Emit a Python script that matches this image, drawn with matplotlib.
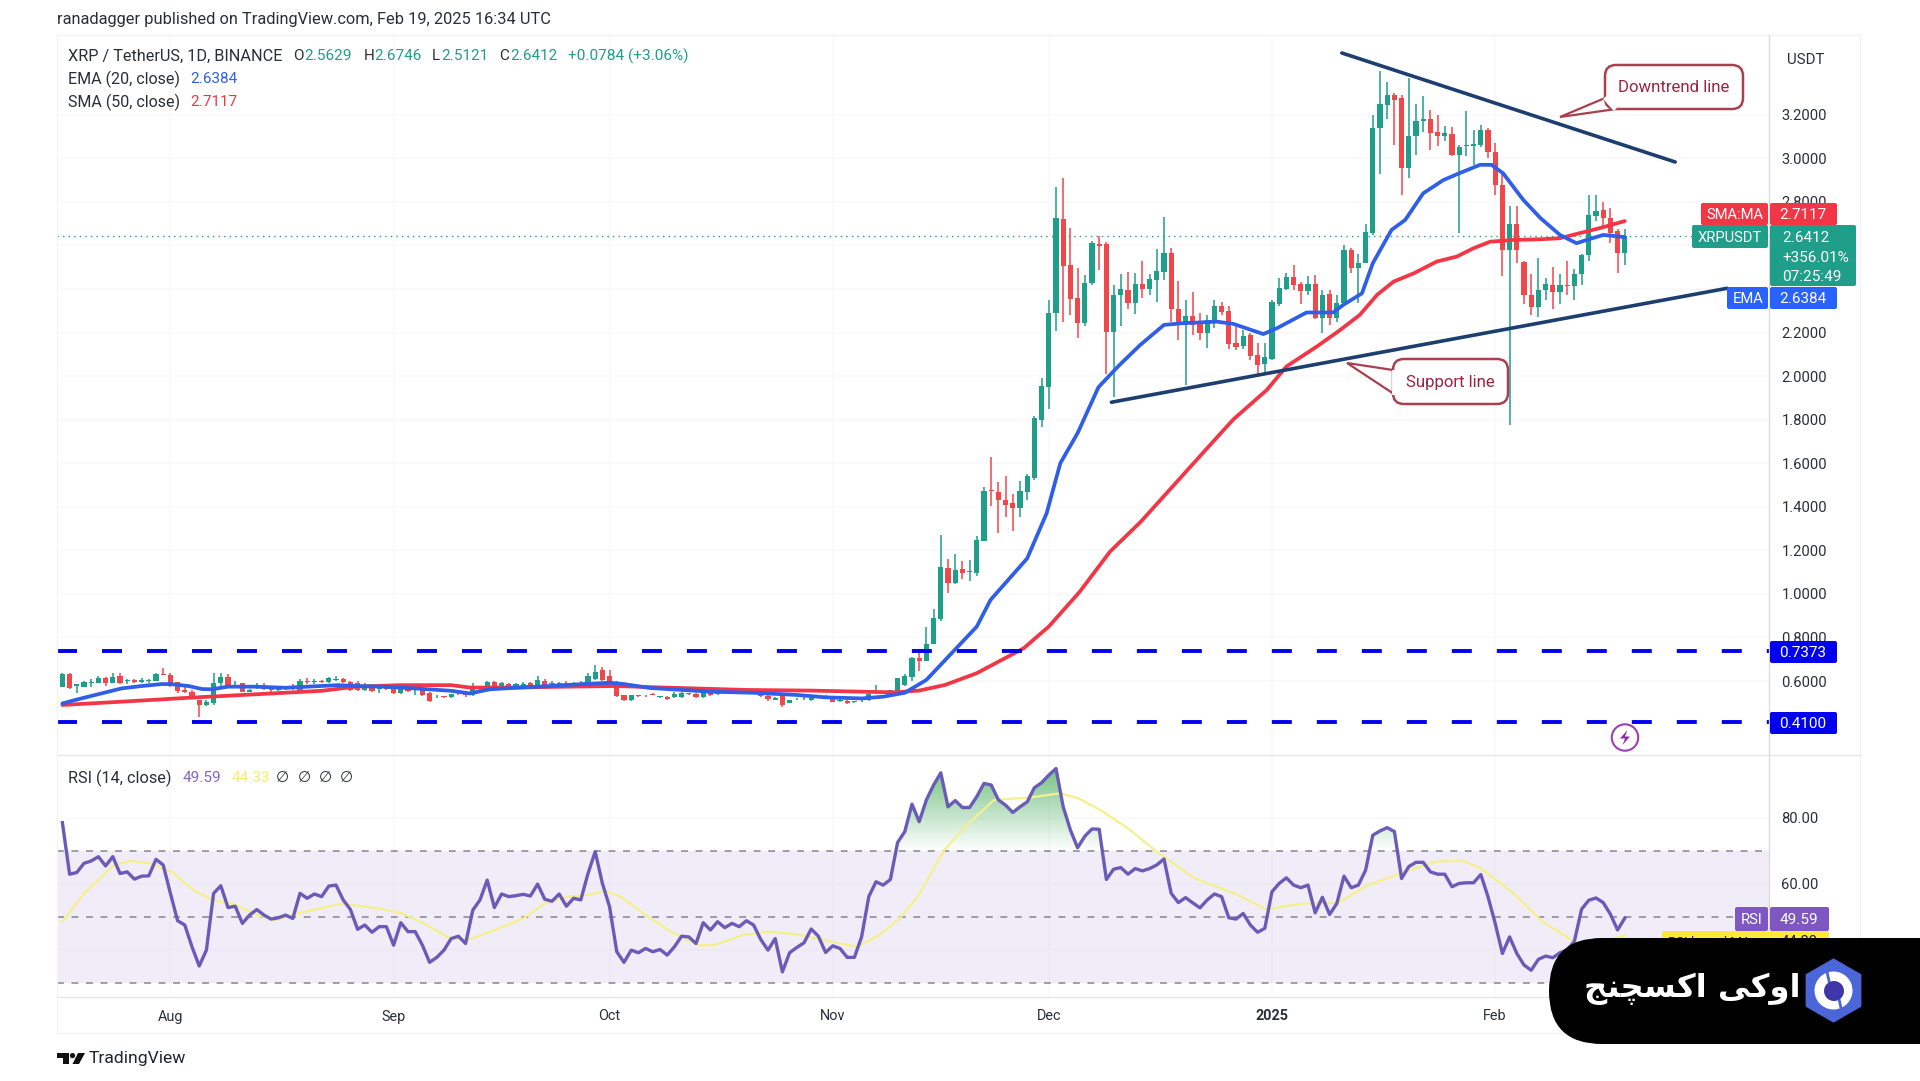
import numpy as np
import matplotlib
matplotlib.use('Agg')
import matplotlib.pyplot as plt
from matplotlib.patches import FancyBboxPatch, Polygon, Circle, PathPatch
from matplotlib.path import Path

plt.rcParams['font.family'] = ['Roboto', 'DejaVu Sans']

# ---------- data (daily candles, index 0 = 17 Jul 2024, 217 = 19 Feb 2025) ----------
opens = [
.574,.632,.575,.571,.59,.592,.612,.592,.623,.60,
.603,.595,.598,.60,.63,.628,.594,.558,.55,.513,
.49,.497,.592,.62,.574,.59,.551,.566,.577,.562,
.56,.565,.577,.556,.60,.597,.60,.597,.605,.607,
.597,.59,.558,.569,.563,.566,.566,.543,.566,.557,
.558,.546,.525,.527,.525,.54,.54,.535,.566,.569,
.597,.566,.586,.575,.578,.59,.58,.60,.585,.58,
.592,.582,.592,.59,.61,.65,.625,.597,.535,.515,
.533,.531,.54,.527,.528,.525,.525,.543,.54,.525,
.548,.54,.555,.55,.553,.55,.552,.551,.532,.515,
.532,.50,.516,.52,.513,.529,.53,.52,.508,.51,
.505,.506,.513,.544,.55,.555,.55,.582,.62,.705,
.69,.77,.885,1.12,1.05,1.113,1.10,1.095,1.245,1.474,
1.468,1.433,1.415,1.393,1.47,1.53,1.799,1.949,2.288,2.721,
2.51,2.36,2.243,2.426,2.607,2.607,2.204,2.37,2.396,2.337,
2.423,2.398,2.442,2.48,2.567,2.308,2.235,2.278,2.243,2.20,
2.255,2.322,2.30,2.154,2.138,2.19,2.097,2.056,2.079,2.331,
2.40,2.454,2.423,2.392,2.421,2.265,2.375,2.268,2.334,2.579,
2.498,2.518,2.656,3.137,3.245,3.29,3.275,2.957,3.10,3.17,
3.18,3.12,3.10,3.11,3.015,3.055,3.055,3.06,3.13,3.03,
2.878,2.579,2.70,2.526,2.373,2.316,2.393,2.418,2.388,2.419,
2.414,2.467,2.556,2.735,2.763,2.725,2.664,2.5629]
highs = [
.635,.635,.586,.60,.607,.622,.617,.635,.635,.607,
.607,.612,.607,.638,.658,.635,.597,.571,.56,.513,
.513,.638,.638,.63,.60,.592,.565,.59,.59,.57,
.568,.575,.585,.61,.612,.61,.605,.62,.625,.612,
.60,.60,.59,.572,.568,.57,.57,.57,.57,.562,
.56,.55,.535,.53,.541,.543,.543,.592,.575,.60,
.60,.595,.59,.59,.595,.595,.622,.61,.60,.595,
.60,.596,.60,.635,.672,.665,.65,.60,.537,.537,
.536,.534,.545,.532,.53,.55,.548,.547,.545,.548,
.552,.552,.56,.56,.56,.556,.556,.555,.535,.525,
.54,.515,.52,.525,.53,.535,.535,.523,.52,.513,
.51,.514,.55,.58,.555,.56,.615,.63,.71,.745,
.85,.93,1.27,1.16,1.183,1.15,1.155,1.265,1.49,1.63,
1.515,1.54,1.46,1.52,1.55,1.815,1.99,2.35,2.87,2.91,
2.68,2.495,2.465,2.62,2.645,2.615,2.42,2.47,2.48,2.475,
2.53,2.47,2.585,2.73,2.59,2.435,2.35,2.385,2.29,2.28,
2.35,2.34,2.32,2.23,2.21,2.20,2.15,2.15,2.35,2.45,
2.475,2.51,2.43,2.46,2.465,2.395,2.395,2.37,2.60,2.59,
2.56,2.70,3.20,3.40,3.35,3.30,3.29,3.37,3.25,3.285,
3.22,3.20,3.15,3.145,3.06,3.215,3.13,3.155,3.14,3.07,
2.94,2.78,2.78,2.53,2.47,2.54,2.45,2.50,2.47,2.53,
2.49,2.56,2.83,2.83,2.80,2.77,2.675,2.6746]
lows = [
.572,.563,.543,.571,.574,.59,.575,.59,.585,.587,
.589,.589,.589,.598,.627,.572,.545,.543,.53,.433,
.487,.49,.577,.57,.57,.55,.55,.563,.558,.545,
.556,.56,.56,.55,.585,.585,.59,.592,.60,.59,
.555,.555,.555,.55,.545,.558,.54,.54,.55,.535,
.533,.505,.52,.522,.522,.535,.525,.53,.56,.565,
.568,.563,.572,.572,.575,.575,.578,.577,.582,.578,
.578,.58,.586,.586,.606,.60,.575,.525,.51,.51,
.528,.526,.534,.524,.512,.522,.522,.538,.52,.522,
.532,.536,.545,.546,.546,.545,.546,.528,.51,.512,
.48,.497,.512,.515,.51,.525,.525,.503,.505,.494,
.50,.503,.51,.54,.545,.55,.548,.575,.60,.645,
.69,.77,.875,1.005,1.047,1.07,1.06,1.08,1.245,1.405,
1.28,1.355,1.29,1.355,1.43,1.525,1.768,1.85,2.205,2.25,
2.28,2.175,2.23,2.42,2.485,2.01,1.905,2.23,2.31,2.285,
2.36,2.37,2.34,2.44,2.25,2.165,1.96,2.19,2.165,2.13,
2.22,2.28,2.125,2.12,2.125,2.075,2.0,2.015,2.075,2.32,
2.395,2.395,2.33,2.37,2.26,2.20,2.235,2.25,2.33,2.475,
2.335,2.518,2.65,2.93,3.18,3.06,2.83,2.91,3.015,3.12,
3.04,3.055,3.08,3.01,2.655,3.01,2.97,3.05,3.0,2.83,
2.46,1.775,2.518,2.33,2.28,2.27,2.35,2.31,2.33,2.37,
2.35,2.42,2.53,2.71,2.69,2.61,2.475,2.5121]
closes = [
.632,.566,.585,.597,.597,.612,.59,.62,.59,.603,
.595,.603,.603,.632,.628,.577,.556,.55,.532,.49,
.505,.589,.62,.574,.58,.551,.56,.577,.562,.558,
.565,.57,.566,.60,.597,.60,.597,.612,.607,.597,
.558,.558,.569,.554,.564,.562,.543,.566,.555,.56,
.535,.51,.527,.526,.539,.539,.535,.566,.57,.597,
.571,.59,.577,.585,.586,.578,.604,.58,.59,.592,
.582,.592,.59,.623,.642,.604,.58,.53,.515,.534,
.531,.529,.538,.529,.517,.54,.543,.541,.525,.543,
.536,.548,.548,.555,.55,.552,.55,.532,.517,.52,
.49,.513,.518,.522,.524,.527,.532,.505,.51,.498,
.506,.51,.54,.546,.548,.557,.612,.623,.705,.69,
.77,.888,1.122,1.048,1.11,1.095,1.104,1.247,1.474,1.472,
1.43,1.41,1.393,1.473,1.54,1.806,1.955,2.291,2.724,2.507,
2.354,2.243,2.426,2.61,2.597,2.204,2.372,2.40,2.337,2.423,
2.40,2.446,2.484,2.564,2.307,2.235,2.278,2.235,2.20,2.258,
2.322,2.296,2.148,2.135,2.184,2.094,2.05,2.086,2.338,2.403,
2.454,2.418,2.392,2.423,2.265,2.372,2.268,2.334,2.579,2.495,
2.521,2.663,3.141,3.248,3.29,3.268,2.957,3.10,3.17,3.18,
3.115,3.10,3.115,3.015,3.054,3.06,3.065,3.13,3.03,2.878,
2.579,2.70,2.579,2.373,2.319,2.396,2.423,2.388,2.418,2.415,
2.47,2.556,2.74,2.76,2.725,2.656,2.5629,2.6412]

ema_x = [0,1.8,3.6,6.4,8.2,11,13.8,15,17.5,19.4,20.7,23,26.8,31,34,38.3,40.7,44.6,49,54,56.6,59.4,63,67.7,72.3,76,78,81.6,90,96,102,106,111,114,117,120,122.6,127,128.9,134,136.7,138.6,141,143.9,146.7,149.7,153,155.7,160.3,162.6,166.8,168.7,172.8,176.5,177.9,180.5,182,184.6,186.5,189,191.8,194,196.9,198.5,200.1,202.9,205.3,208,210.3,211.7,214,217]
ema_v = [.497,.513,.528,.551,.566,.577,.586,.586,.577,.563,.562,.574,.574,.569,.574,.581,.577,.574,.566,.555,.543,.562,.569,.577,.586,.592,.586,.568,.551,.546,.536,.525,.52,.528,.546,.605,.696,.85,.972,1.163,1.37,1.60,1.738,1.949,2.047,2.143,2.235,2.243,2.25,2.24,2.193,2.22,2.292,2.292,2.327,2.38,2.518,2.671,2.717,2.839,2.90,2.931,2.97,2.97,2.931,2.809,2.725,2.648,2.61,2.625,2.648,2.6384]
sma_x = [0,8.2,17.5,26.8,36,40.7,46.9,54,56.6,63,70,76.9,81.6,95,104,111,115.6,119,122.6,127,133.5,137,141.3,145.5,149.8,159,162.6,167.3,170,174.2,177.4,180.2,182.6,184.9,187.7,190.9,193.7,196,198.3,201.5,205.2,208,210.7,213.5,217]
sma_v = [.49,.505,.523,.539,.555,.574,.581,.581,.57,.57,.574,.577,.572,.559,.556,.551,.548,.556,.582,.636,.75,.85,1.01,1.194,1.332,1.669,1.80,1.937,2.044,2.135,2.21,2.281,2.373,2.434,2.472,2.526,2.549,2.587,2.617,2.625,2.628,2.633,2.656,2.679,2.7117]

rsi_v = [
78.5,62.9,63.4,66.2,66.9,68.2,65.4,68.2,63.1,63.6,
61.4,62.3,62.4,67.4,65.7,57.1,48.8,47.5,40.9,35.1,
39.9,57.1,59.4,52.8,53.2,48.0,50.5,52.2,50.5,49.3,
49.7,50.5,49.5,57.1,55.6,56.9,56.1,59.3,59.6,55.1,
52.2,46.2,47.5,45.3,47.0,47.0,41.4,48.2,45.5,45.5,
41.4,36.2,37.7,39.9,43.4,44.1,41.9,52.0,55.1,61.1,
52.8,56.9,56.1,56.4,56.8,56.3,59.9,55.3,54.7,56.9,
53.2,55.6,55.1,63.1,69.7,60.1,53.0,39.4,36.2,39.9,
39.1,40.4,39.4,40.1,38.4,40.9,44.1,43.9,41.9,48.2,
46.0,48.5,46.7,48.0,47.0,48.8,47.5,43.1,39.9,43.4,
33.3,39.1,40.7,42.1,46.3,44.1,39.2,41.2,40.4,37.7,
37.7,43.9,56.1,60.6,59.6,61.3,72.5,75.8,84.1,78.8,
85.4,89.9,93.6,83.3,85.2,83.1,83.1,86.4,90.4,89.9,
85.4,83.8,81.6,83.3,84.8,89.1,90.6,92.9,94.9,83.3,
76.3,70.9,74.4,76.6,76.5,61.3,64.4,64.9,62.9,64.6,
63.9,64.6,65.7,67.5,57.1,54.3,55.8,54.2,52.7,55.1,
56.9,56.1,49.7,49.3,51.0,47.5,45.3,46.5,57.6,60.1,
61.8,59.6,58.8,59.6,51.2,55.9,50.7,54.0,62.3,58.8,
59.6,64.1,74.7,76.0,77.0,75.8,61.6,65.2,66.5,66.5,
63.6,62.9,62.9,59.1,60.1,60.3,60.3,62.8,56.1,48.0,
38.9,43.9,38.9,35.4,33.8,37.1,38.1,37.6,39.1,39.9,
42.6,52.3,55.0,55.7,54.3,50.8,46.0,49.59]
rsi_ma_x = [0,3,7.2,9.5,12.1,15.2,18.2,20.9,23.6,27.4,29.6,32.7,35.7,38.8,44.1,47.2,50.2,53.6,56.3,60.1,64,67,70,73,75.4,77.6,80.7,84.5,88.3,90.6,94.4,98.2,102,105.8,110.4,113.4,116.3,118.8,122.5,125.6,129.4,134.3,138.6,141.1,144.2,148,151.7,157.3,162.8,167.2,172.1,177.1,181.4,185.8,190.7,194.5,197,201.3,205.6,210,213,217]
rsi_ma_v = [48.5,57.1,65.7,66.9,66.2,63.6,58.1,55,54,50.3,49,51,52.5,54,52.5,51,48,43.7,43,46,49.5,54,56,56.6,57.9,56,51,45.5,41.4,41.4,44.4,45.5,44.7,42.9,40.9,44.4,49.5,56.1,70.2,77.8,85.4,86.1,87.4,85.9,82.3,76.8,70.2,61.6,57.1,52.2,54,54.2,59.6,63.1,66.7,67,64.6,57.6,48.5,42.4,42,44.33]

levels = [0.7373, 0.41]
down_x, down_y = [177.7, 224.0], [3.4835, 2.983]
sup_x, sup_y = [145.7, 231.2], [1.88, 2.403]
last_close = 2.6412

price_ticks = [0.6,0.8,1.0,1.2,1.4,1.6,1.8,2.0,2.2,2.4,2.6,2.8,3.0,3.2]
price_hidden = [2.4, 2.6]            # covered by the price tags in the reference
rsi_ticks = [40, 60, 80]
rsi_hidden = [40]                    # covered by the badge in the reference
month_pos = [15, 46, 76, 107, 137, 168, 199]
month_lab = ['Aug', 'Sep', 'Oct', 'Nov', 'Dec', '2025', 'Feb']

GREEN, RED, BLUE = '#1f9e89', '#f0474b', '#2f5ee8'
SMARED = '#f23645'
NAVY = '#1c3f70'
PURPLE = '#6a5bb8'
LEVEL = '#0000ee'
TXT = '#2a2e39'
GRID = '#f9f9fa'
W, H = 1920, 1081

def axbox(l, t, r, b):
    return [l / W, 1 - b / H, (r - l) / W, (b - t) / H]

fig = plt.figure(figsize=(19.2, 10.81), dpi=100, facecolor='white')
ax = fig.add_axes(axbox(57, 35, 1769, 755))
rx = fig.add_axes(axbox(57, 755, 1769, 997))
ov = fig.add_axes([0, 0, 1, 1], zorder=10)
ov.set_xlim(0, W); ov.set_ylim(H, 0); ov.axis('off'); ov.patch.set_alpha(0)

XL = (-0.75, 237.03)
# ---- price pane
ax.set_xlim(*XL); ax.set_ylim(0.2603, 3.566)
idx = np.arange(len(opens))
o, h, l, c = map(np.array, (opens, highs, lows, closes))
cols = [GREEN if cc >= oo else RED for oo, cc in zip(o, c)]
ax.vlines(idx, l, h, colors=cols, lw=1.1, zorder=3)
bot = np.minimum(o, c); ht = np.maximum(np.abs(c - o), 0.003)
ax.bar(idx, ht, bottom=bot, width=0.72, color=cols, linewidth=0, zorder=3)
ax.plot(ema_x, ema_v, color=BLUE, lw=2.7, zorder=5, solid_capstyle='round', solid_joinstyle='round')
ax.plot(sma_x, sma_v, color=SMARED, lw=2.7, zorder=4, solid_capstyle='round', solid_joinstyle='round')
ax.axhline(last_close, color=GREEN, lw=1, ls=(0, (1, 3)), zorder=2)
for lv in levels:
    ax.axhline(lv, color=LEVEL, lw=2.8, ls=(0, (5.14, 6.43)), zorder=4)
ax.plot(down_x, down_y, color=NAVY, lw=2.6, zorder=6, solid_capstyle='round')
ax.plot(sup_x, sup_y, color=NAVY, lw=2.6, zorder=6, solid_capstyle='round')
ax.set_yticks(price_ticks)
ax.set_yticklabels(['' if t in price_hidden else f'{t:.4f}' for t in price_ticks])
ax.yaxis.tick_right()
ax.tick_params(axis='y', length=0, pad=9, labelsize=10.6, labelcolor=TXT)
ax.set_xticks(month_pos); ax.tick_params(axis='x', length=0, labelbottom=False)
ax.grid(True, color=GRID, lw=1.2, zorder=0); ax.set_axisbelow(True)

# ---- RSI pane
rx.set_xlim(*XL); rx.set_ylim(25.7, 99)
rx.axhspan(30, 70, color='#7e57c2', alpha=0.1, lw=0, zorder=1)
for lv in (70, 50, 30):
    rx.axhline(lv, color='#85858f', lw=1.1, ls=(0, (4.5, 5)), zorder=2)
rsi = np.array(rsi_v); ridx = np.arange(len(rsi))
poly = rx.fill_between(ridx, 70, rsi, where=rsi > 70, interpolate=True, alpha=0)
clip = PathPatch(Path.make_compound_path(*poly.get_paths()), transform=rx.transData, fc='none', ec='none')
rx.add_patch(clip)
n = 256
grad = np.zeros((n, 2, 4))
grad[..., 0] = 0.28; grad[..., 1] = 0.68; grad[..., 2] = 0.36
grad[:, :, 3] = np.linspace(0.78, 0, n)[:, None]
im = rx.imshow(grad, extent=[XL[0], XL[1], 70, 96], origin='upper', aspect='auto', zorder=2.5)
im.set_clip_path(clip)
rx.set_xlim(*XL); rx.set_ylim(25.7, 99)
rx.plot(rsi_ma_x, rsi_ma_v, color='#f5f08a', lw=1.6, zorder=3)
rx.plot(ridx, rsi, color=PURPLE, lw=2.4, zorder=4, solid_joinstyle='round')
rx.set_yticks(rsi_ticks)
rx.set_yticklabels(['' if t in rsi_hidden else f'{t:.2f}' for t in rsi_ticks])
rx.yaxis.tick_right()
rx.tick_params(axis='y', length=0, pad=9, labelsize=10.6, labelcolor=TXT)
rx.set_xticks(month_pos); rx.set_xticklabels(month_lab)
rx.tick_params(axis='x', length=0, pad=9, labelsize=10.4, labelcolor=TXT)
for t in rx.get_xticklabels():
    if t.get_text() == '2025':
        t.set_fontweight('bold')
rx.grid(True, color=GRID, lw=1.2, zorder=0); rx.set_axisbelow(True)
for a in (ax, rx):
    for s in a.spines.values():
        s.set_visible(False)

# ---- frame lines
for (x0, y0, x1, y1, col) in [(57, 35, 1860, 35, '#f4f4f5'), (1860, 35, 1860, 1033, '#f1f1f2'),
                              (57, 755, 1860, 755, '#e6e6e8'), (57, 997, 1860, 997, '#e6e6e8'),
                              (57, 1033, 1860, 1033, '#f1f1f2'), (1769, 35, 1769, 1033, '#d9d9dc'),
                              (57, 35, 57, 1033, '#f4f4f5')]:
    ov.plot([x0, x1], [y0, y1], color=col, lw=0.9, zorder=0.5)

def T(x, y, s, color=TXT, size=10.6, ha='left', va='center', **kw):
    ov.text(x, y + 1, s, color=color, fontsize=size, ha=ha, va=va, **kw)

# ---- header text
T(57, 18.5, 'ranadagger published on TradingView.com, Feb 19, 2025 16:34 UTC', size=11.8)
T(68, 55, 'XRP / TetherUS, 1D, BINANCE', size=11.7)
hg = '#1f9e89'
for x, lab, xv, val in [(293, 'O', 304, '2.5629'), (364, 'H', 374, '2.6746'), (432, 'L', 441, '2.5121'), (499, 'C', 510, '2.6412')]:
    T(x, 55, lab, size=11); T(xv, 55, val, color=hg, size=11)
T(568, 55, '+0.0784 (+3.06%)', color=hg, size=11.1)
T(68, 78, 'EMA (20, close)', size=11.5); T(190, 78, '2.6384', color=BLUE, size=11)
T(68, 101, 'SMA (50, close)', size=11.5); T(190, 101, '2.7117', color=SMARED, size=11)
T(68, 777, 'RSI (14, close)', size=11.7); T(182.6, 777, '49.59', color='#7e68c2', size=11)
T(232, 777, '44.33', color='#f3ee6e', size=11)
for x in (282, 304, 325, 346):
    T(x, 777, '∅', size=10.9, ha='center')
T(1787, 59, 'USDT', size=10.8)
T(89, 1058, 'TradingView', size=12.6, color='#1f2430')
ov.add_patch(Polygon([(57, 1053), (69, 1053), (69, 1064), (63, 1064), (63, 1058), (57, 1058)], fc='#111', ec='none'))
ov.add_patch(Circle((72.5, 1055.6), 2.6, fc='#111', ec='none'))
ov.add_patch(Polygon([(78, 1053), (85, 1053), (79, 1064), (72.5, 1064)], fc='#111', ec='none'))

# ---- callouts
CE, CT = '#a9404f', '#9c2440'
def callout(x0, y0, x1, y1, tail, cover, text):
    ov.add_patch(Polygon(tail, closed=True, fc='white', ec=CE, lw=1.6, zorder=6))
    ov.add_patch(FancyBboxPatch((x0 + 10, y0 + 10), x1 - x0 - 20, y1 - y0 - 20,
                                boxstyle='round,pad=10,rounding_size=11', fc='white', ec=CE, lw=1.8, zorder=6))
    ov.plot(*zip(*cover), color='white', lw=2.8, zorder=7)
    ov.text((x0 + x1) / 2, (y0 + y1) / 2 + 0.5, text, color=CT, fontsize=12.1, ha='center', va='center', zorder=8)
callout(1605, 65, 1743, 109, [(1605, 98), (1560, 117), (1616, 109)], [(1605.8, 99), (1614, 108.2)], 'Downtrend line')
callout(1393, 359, 1508, 404, [(1393, 370), (1347, 363), (1394, 394)], [(1393.6, 371.5), (1393.6, 392.5)], 'Support line')

# ---- price tags
def tag(x0, y0, x1, y1, col, z=5):
    ov.add_patch(FancyBboxPatch((x0 + 1.5, y0 + 1.5), x1 - x0 - 3, y1 - y0 - 3,
                                boxstyle='round,pad=1.5,rounding_size=2', fc=col, ec='none', zorder=z))
WT = '#ffffff'
VS = 11
tag(1701, 203, 1768, 225, SMARED); tag(1770, 203, 1837, 225, SMARED)
T(1734.5, 214, 'SMA:MA', color=WT, ha='center', zorder=9); T(1803, 214, '2.7117', color=WT, ha='center', zorder=9, size=VS)
tag(1692, 225, 1768, 248, GREEN); tag(1770, 225, 1856, 286, GREEN)
T(1730, 237, 'XRPUSDT', color=WT, ha='center', zorder=9); T(1782, 237, '2.6412', color=WT, zorder=9, size=VS)
T(1782, 257, '+356.01%', color=WT, zorder=9, size=VS); T(1782, 276, '07:25:49', color=WT, zorder=9, size=VS)
tag(1727, 287, 1768, 309, '#2962ff'); tag(1770, 287, 1837, 309, '#2962ff')
T(1748, 298, 'EMA', color=WT, ha='center', zorder=9); T(1803, 298, '2.6384', color=WT, ha='center', zorder=9, size=VS)
tag(1770, 641, 1837, 663, LEVEL); T(1803, 652, '0.7373', color=WT, ha='center', zorder=9, size=VS)
tag(1770, 712, 1837, 734, LEVEL); T(1803, 723, '0.4100', color=WT, ha='center', zorder=9, size=VS)
tag(1735, 907, 1768, 931, '#7e57c2'); tag(1770, 907, 1829, 931, '#7e57c2')
T(1752, 919, 'RSI', color=WT, ha='center', zorder=9); T(1799, 919, '49.59', color=WT, ha='center', zorder=9, size=VS)
tag(1662, 931, 1829, 952, '#fbe93a')
T(1668, 941, 'RSI-based MA', color='#222', zorder=9, size=9.5); T(1799, 941, '44.33', color='#222', ha='center', zorder=9)

# ---- lightning icon
ov.add_patch(Circle((1625, 737.5), 13.2, fc='white', ec='#9c3fb5', lw=1.5, zorder=7))
ov.add_patch(Polygon([(1627.5, 730), (1620, 738.5), (1625, 738.5), (1622.5, 745), (1630, 736.5), (1625, 736.5)], fc='#8e2aa8', ec='none', zorder=8))

# ---- black badge
ov.add_patch(FancyBboxPatch((1549 + 53, 938 + 53), 500, 0, boxstyle='round,pad=53,rounding_size=53', fc='black', ec='none', zorder=20))
arabic = '\uFE9E\uFEE8\uFB7D\uFEB4\uFB90\uFE8D \uFBFD\uFB90\uFEED\uFE8D'   # اوکی اکسچنج, already shaped, in display order
ov.text(1692, 989, arabic, color='white', fontsize=23.2, fontweight='bold', family='DejaVu Sans', ha='center', va='center', zorder=21)
th = np.deg2rad(np.arange(6) * 60 + 90)
ov.add_patch(Polygon(np.c_[1833.5 + 31 * np.cos(th), 990.5 + 31 * np.sin(th)], closed=True, fc='#4a66d8', ec='#4a66d8', lw=1.5, joinstyle='round', zorder=21))
ov.add_patch(Circle((1833.5, 990.5), 19, fc='white', ec='none', zorder=22))
ov.plot([1829.5, 1827], [983, 972], color='#4a66d8', lw=2, zorder=22.5)
ov.plot([1839, 1841], [999, 1008], color='#4a66d8', lw=2, zorder=22.5)
ov.add_patch(Circle((1834, 991), 10, fc='#3f37a8', ec='none', zorder=23))

fig.savefig('out.png', dpi=100, facecolor='white')
